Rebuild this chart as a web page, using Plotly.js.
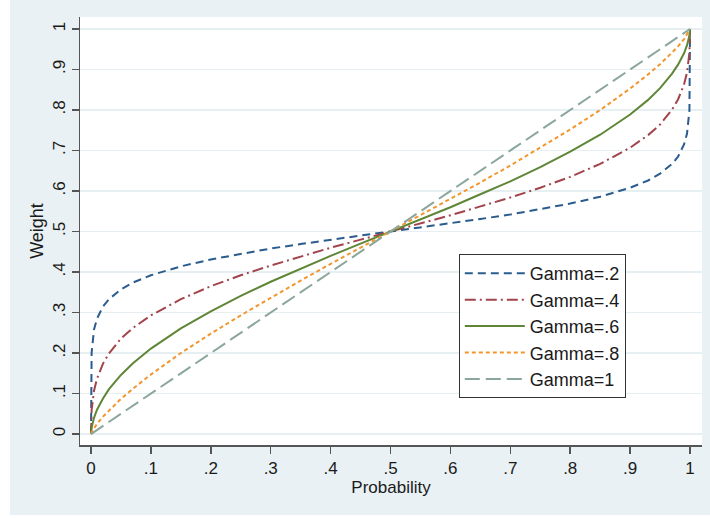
<!DOCTYPE html>
<html>
<head>
<meta charset="utf-8">
<script src="https://cdn.plot.ly/plotly-3.0.1.min.js"></script>
<style>
  html, body { margin: 0; padding: 0; background: #ffffff; }
  #chart { position: absolute; left: 10px; top: 0px; width: 700px; height: 515px; }
</style>
</head>
<body>
<div id="chart"></div>
<script>
const probability = [0, .001, .005, .01, .02, .03, .05, .07, .1, .15, .2, .25, .3, .35, .4, .45, .5, .55, .6, .65, .7, .75, .8, .85, .9, .93, .95, .97, .98, .99, .995, .999, 1];
const gamma02 = [0, .201, .258, .285, .315, .333, .357, .374, .392, .414, .431, .445, .458, .469, .480, .490, .5, .510, .520, .531, .542, .555, .569, .586, .608, .626, .643, .667, .685, .715, .742, .799, 1];
const gamma04 = [0, .059, .107, .137, .174, .199, .236, .262, .293, .333, .365, .392, .416, .438, .460, .480, .5, .520, .540, .562, .584, .608, .635, .667, .707, .738, .764, .801, .826, .863, .893, .941, 1];
const gamma06 = [0, .016, .040, .060, .088, .111, .146, .175, .211, .261, .303, .341, .376, .408, .440, .470, .5, .530, .560, .592, .624, .659, .697, .739, .789, .825, .854, .890, .912, .940, .960, .984, 1];
const gamma08 = [0, .004, .014, .025, .043, .058, .087, .112, .147, .200, .248, .293, .337, .379, .420, .460, .5, .540, .580, .621, .663, .707, .752, .800, .853, .888, .913, .942, .957, .975, .986, .996, 1];
const gamma10 = [0, .001, .005, .01, .02, .03, .05, .07, .1, .15, .2, .25, .3, .35, .4, .45, .5, .55, .6, .65, .7, .75, .8, .85, .9, .93, .95, .97, .98, .99, .995, .999, 1];
const seriesNames = ["Gamma=.2", "Gamma=.4", "Gamma=.6", "Gamma=.8", "Gamma=1"];
const tickVals = [0, .1, .2, .3, .4, .5, .6, .7, .8, .9, 1];
const tickLabels = ["0", ".1", ".2", ".3", ".4", ".5", ".6", ".7", ".8", ".9", "1"];

const seriesData = [gamma02, gamma04, gamma06, gamma08, gamma10];
const colors = ["#2b5c8e", "#a2444b", "#5f8636", "#f2962e", "#8aa69d"];
const dashes = ["8px,5px", "11px,4px,2px,4px", "solid", "4px,3px", "15px,6px"];

const traces = seriesData.map((ys, i) => ({
  x: probability,
  y: ys,
  type: "scatter",
  mode: "lines",
  name: seriesNames[i],
  line: { color: colors[i], width: 2, dash: dashes[i] }
}));

const fam = "Arial, 'Liberation Sans', sans-serif";
const font = { family: fam, size: 17, color: "#1a1a1a" };

const layout = {
  width: 700,
  height: 515,
  paper_bgcolor: "#e9f1f4",
  plot_bgcolor: "#ffffff",
  font: font,
  margin: { l: 70, r: 8, t: 17, b: 70 },
  showlegend: true,
  legend: {
    x: 0.609, y: 0.446, xanchor: "left", yanchor: "top",
    bgcolor: "#ffffff", bordercolor: "#333333", borderwidth: 1,
    font: { family: fam, size: 18, color: "#1a1a1a" }, itemwidth: 60,
    traceorder: "normal"
  },
  xaxis: {
    range: [-0.0184, 1.020],
    tickvals: tickVals, ticktext: tickLabels,
    ticks: "outside", ticklen: 7, tickcolor: "#555555", tickwidth: 1.5,
    showline: true, linecolor: "#555555", linewidth: 1.5,
    showgrid: false, zeroline: false,
    tickfont: font,
    title: { text: "Probability", font: font, standoff: 0 }
  },
  yaxis: {
    range: [-0.027, 1.0296],
    tickvals: tickVals, ticktext: tickLabels, tickangle: -90,
    ticks: "outside", ticklen: 7, tickcolor: "#555555", tickwidth: 1.5,
    showline: true, linecolor: "#555555", linewidth: 1.5,
    showgrid: true, gridcolor: "#e6eff2", gridwidth: 1.5, zeroline: false,
    tickfont: font,
    title: { text: "Weight", font: { family: fam, size: 18, color: "#1a1a1a" }, standoff: 1 }
  }
};

Plotly.newPlot("chart", traces, layout, { displayModeBar: false, staticPlot: true });
</script>
</body>
</html>
